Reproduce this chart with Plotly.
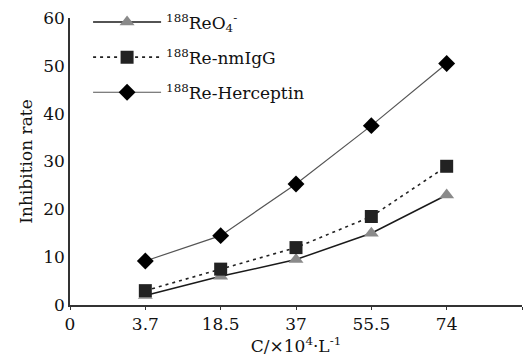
import plotly.graph_objects as go

tick_labels = ["0", "3.7", "18.5", "37", "55.5", "74", ""]
conc_pos = [1, 2, 3, 4, 5]
reo4 = [2.0, 6.0, 9.5, 15.0, 23.0]
nmigg = [3.0, 7.5, 12.0, 18.5, 29.0]
herceptin = [9.2, 14.5, 25.3, 37.5, 50.5]

font = "DejaVu Serif"

fig = go.Figure()
fig.add_trace(go.Scatter(
    x=conc_pos, y=reo4, mode="lines+markers", legendgroup="a",
    name="<sup>188</sup>ReO<sub>4</sub><sup>-</sup>",
    line=dict(color="#1a1a1a", width=1.5),
    marker=dict(symbol="triangle-up", size=13, color="#8a8a8a"),
))
fig.add_trace(go.Scatter(
    x=conc_pos, y=nmigg, mode="lines+markers", legendgroup="b",
    name="<sup>188</sup>Re-nmIgG",
    line=dict(color="#222222", width=1.6, dash="3px,4px"),
    marker=dict(symbol="square", size=13, color="#222222"),
))
fig.add_trace(go.Scatter(
    x=conc_pos, y=herceptin, mode="lines+markers", legendgroup="c",
    name="<sup>188</sup>Re-Herceptin",
    line=dict(color="#555555", width=1.2),
    marker=dict(symbol="diamond", size=13, color="#000000"),
))

fig.update_layout(
    width=523, height=361,
    margin=dict(l=70, r=1, t=18, b=56),
    paper_bgcolor="white", plot_bgcolor="white",
    font=dict(family=font, size=17, color="#111111"),
    showlegend=True,
    legend=dict(x=0.04, y=1.047, xanchor="left", yanchor="top",
                bgcolor="rgba(0,0,0,0)", itemwidth=68,
                traceorder="grouped", tracegroupgap=10,
                font=dict(family=font, size=17)),
    xaxis=dict(range=[0, 6], tickmode="array", tickvals=list(range(7)),
               ticktext=tick_labels, showgrid=False, zeroline=False,
               showline=True, linecolor="#333333", linewidth=1.5,
               ticks="outside", ticklen=3, tickcolor="#333333",
               title=dict(text="C/×10<sup>4</sup>·L<sup>-1</sup>", standoff=2,
                          font=dict(family=font, size=17))),
    yaxis=dict(range=[0, 60], tickvals=[0, 10, 20, 30, 40, 50, 60],
               showgrid=False, zeroline=False,
               showline=True, linecolor="#333333", linewidth=1.5,
               ticks="", ticklen=0,
               title=dict(text="Inhibition rate", standoff=6,
                          font=dict(family=font, size=17))),
)

fig.write_html("out.html", config={"displayModeBar": False},
               post_script="document.body.style.margin='0';")
